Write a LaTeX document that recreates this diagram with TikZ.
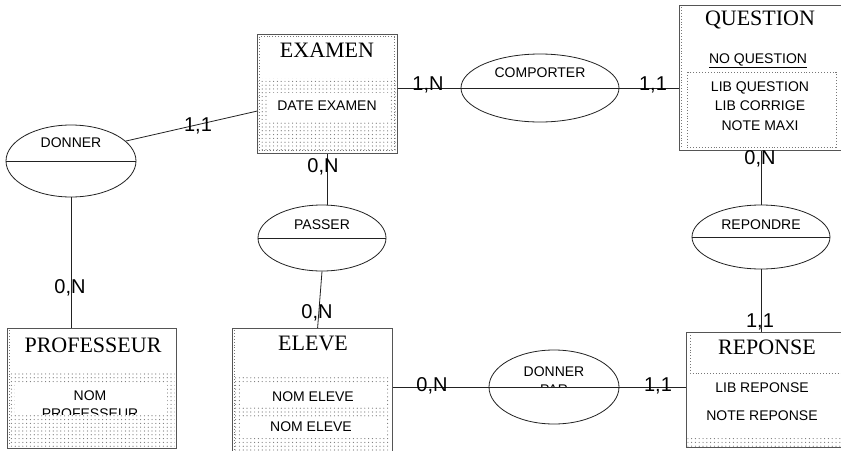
\documentclass[tikz,border=0pt]{standalone}
\usepackage{fontspec}
\setmainfont{Liberation Serif}
\newfontfamily\arial{Liberation Sans}
\usetikzlibrary{shapes.geometric,patterns.meta}
\definecolor{bordc}{HTML}{555555}
\definecolor{linec}{HTML}{222222}
\definecolor{dotc}{HTML}{777777}
\begin{document}
\begin{tikzpicture}[x=1pt,y=-1pt,
 ent/.style={draw=bordc, line width=1.2pt, fill=white, rectangle, inner sep=0pt, anchor=north west},
 rel/.style={draw=linec, line width=0.8pt, fill=white, ellipse, inner sep=0pt},
 ttl/.style={font=\fontsize{22}{24}\selectfont, inner sep=0pt},
 att/.style={font=\arial\fontsize{14}{16}\selectfont, inner sep=0pt},
 rname/.style={font=\arial\fontsize{14}{16}\selectfont, inner sep=0pt},
 card/.style={font=\arial\fontsize{20}{22}\selectfont, inner sep=0pt},
 conn/.style={draw=linec, line width=0.8pt},
 dotfill/.style={pattern={Dots[distance=3.8pt,radius=0.6pt]}, pattern color=dotc},
 dotline/.style={draw=dotc, dotted, line width=0.9pt}
]
\useasboundingbox (0,0) rectangle (841,450);
\fill[white] (0,0) rectangle (841,450);

% ---------- entities ----------
\node[ent, minimum width=140pt, minimum height=119pt] (exa) at (257,34) {};
\node[ent, minimum width=166pt, minimum height=145pt] (que) at (679,5) {};
\node[ent, minimum width=169pt, minimum height=120pt] (prof) at (7,328) {};
\node[ent, minimum width=160pt, minimum height=130pt] (elv) at (232,328) {};
\node[ent, minimum width=160pt, minimum height=115pt] (rsp) at (686,332) {};

% ---------- relationships ----------
\node[rel, minimum width=130pt, minimum height=72pt] (don) at (71,161) {};
\node[rel, minimum width=158pt, minimum height=68pt] (com) at (540,88) {};
\node[rel, minimum width=128pt, minimum height=66pt] (pas) at (322,238) {};
\node[rel, minimum width=138pt, minimum height=64pt] (rep) at (761,237) {};
\node[rel, minimum width=130pt, minimum height=74pt] (dp) at (554,387) {};

% ---------- connectors ----------
\draw[conn] (don.20) -- ([yshift=-17pt]exa.west);
\draw[conn] (don.south) -- (don.south |- prof.north);
\draw[conn] (com.west) -- (com.west -| exa.east);
\draw[conn] (com.east) -- (com.east -| que.west);
\draw[conn] (exa.south) -- (exa.south |- pas.north);
\draw[conn] (pas.south) -- ([xshift=5pt]elv.north);
\draw[conn] (que.south -| rep.north) -- (rep.north);
\draw[conn] (rep.south) -- (rep.south |- rsp.north);
\draw[conn] (dp.west) -- (dp.west -| elv.east);
\draw[conn] (dp.east) -- (dp.east -| rsp.west);

% ---------- ellipse centre lines and names ----------
\foreach \r in {don,com,pas,rep,dp}{\draw[conn] (\r.west) -- (\r.east);}
\node[rname] at (71,143) {DONNER};
\node[rname] at (540,73) {COMPORTER};
\node[rname] at (322,225) {PASSER};
\node[rname] at (761,225) {REPONDRE};
\begin{scope}
\clip (489,345) rectangle (619,386.6);
\node[rname] at (554,372) {DONNER};
\node[rname] at (554,390) {PAR};
\end{scope}

% ---------- EXAMEN ----------
\draw[dotline] (259.5,36.5) rectangle (394.5,150.5);
\fill[dotfill] (258.5,78) rectangle (395.5,152);
\fill[white] (267,93) rectangle (390,120);
\node[ttl] at (327,50) {EXAMEN};
\node[att] at (327,106) {DATE EXAMEN};

% ---------- QUESTION ----------
\draw[dotline] (681.5,7) -- (681.5,148);
\draw[dotline] (687,72) rectangle (836,147);
\node[ttl] at (760,20) {QUESTION};
\node[att] at (758,61) {\underline{NO QUESTION}};
\node[att] at (760,88) {LIB QUESTION};
\node[att] at (760,106) {LIB CORRIGE};
\node[att] at (760,126) {NOTE MAXI};

% ---------- PROFESSEUR ----------
\draw[dotline] (9.5,330) -- (9.5,446);
\fill[dotfill] (8.5,373) rectangle (174.5,447);
\fill[white] (15,383) rectangle (167,414.5);
\node[ttl] at (93,345) {PROFESSEUR};
\begin{scope}
\clip (15,383) rectangle (167,414.5);
\node[att] at (90,396) {NOM};
\node[att] at (90,413.5) {PROFESSEUR};
\end{scope}

% ---------- ELEVE ----------
\draw[dotline] (234.5,330) -- (234.5,450);
\fill[dotfill] (233.5,375) rectangle (390.5,450);
\fill[white] (240,384) rectangle (385,406);
\fill[white] (240,418) rectangle (385,437);
\node[ttl] at (313,343) {ELEVE};
\node[att] at (313,397) {NOM ELEVE};
\node[att] at (311,427) {NOM ELEVE};

% ---------- REPONSE ----------
\draw[dotline] (690,335) -- (690,373) -- (841,373);
\fill[dotfill] (687.5,437) rectangle (841,446);
\node[ttl] at (767,347) {REPONSE};
\node[att] at (762,388) {LIB REPONSE};
\node[att] at (762,416) {NOTE REPONSE};

% ---------- cardinalities ----------
\node[card] at (198,126) {1,1};
\node[card] at (70,288) {0,N};
\node[card] at (428,85) {1,N};
\node[card] at (653,85) {1,1};
\node[card] at (323,167) {0,N};
\node[card] at (317,313) {0,N};
\node[card] at (760,159) {0,N};
\node[card] at (760,322) {1,1};
\node[card] at (432,386) {0,N};
\node[card] at (658,386) {1,1};
\end{tikzpicture}
\end{document}
